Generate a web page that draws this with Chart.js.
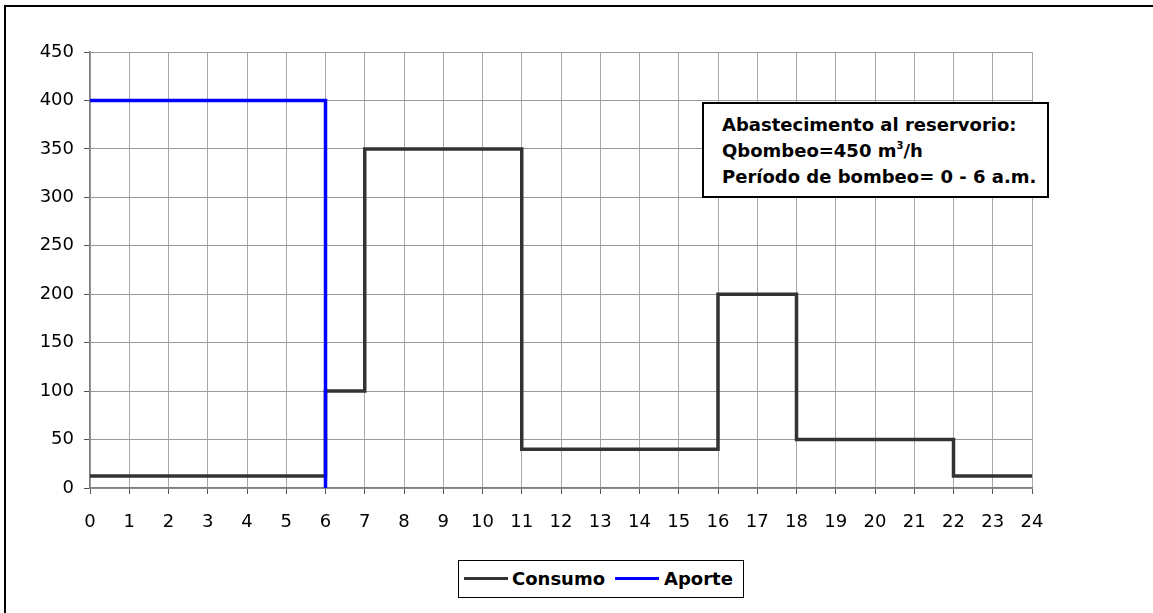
<!DOCTYPE html>
<html>
<head>
<meta charset="utf-8">
<script src="https://cdn.jsdelivr.net/npm/chart.js@4"></script>
<style>
  html, body { margin: 0; padding: 0; background: #fff; overflow: hidden; }
  #wrap { position: relative; width: 1153px; height: 613px; }
  #frame { position: absolute; left: 4px; top: 5px; width: 1200px; height: 700px;
           border-left: 2px solid #000; border-top: 2px solid #000; }
  canvas { position: absolute; left: 0; top: 0; }
  .note { position: absolute; left: 702px; top: 102px; width: 343px; height: 92px;
          border: 2px solid #000; background: #fff; box-sizing: content-box;
          font: bold 18px "DejaVu Sans", sans-serif; color: #000; }
  .note div { position: absolute; left: 18px; white-space: nowrap; }
  .note sup { font-size: 10px; vertical-align: 8px; line-height: 0; }
  .legend { position: absolute; left: 458px; top: 560px; width: 284px; height: 36px;
            border: 1px solid #000; background: #fff;
            font: bold 18px "DejaVu Sans", sans-serif; color: #000; }
  .legend span { position: absolute; top: 7px; white-space: nowrap; }
  .legend i { position: absolute; top: 16px; height: 3px; width: 44px; }
</style>
</head>
<body>
<div id="wrap">
  <div id="frame"></div>
  <canvas id="chart" width="1153" height="613"></canvas>
  <div class="note">
    <div style="top:10px">Abastecimento al reservorio:</div>
    <div style="top:36px">Qbombeo=450 m<sup>3</sup>/h</div>
    <div style="top:62px">Período de bombeo= 0 - 6 a.m.</div>
  </div>
  <div class="legend">
    <i style="left:5px;background:#333333"></i><span style="left:53px">Consumo</span>
    <i style="left:156px;background:#0000ff"></i><span style="left:205px">Aporte</span>
  </div>
</div>
<script>
// horas de cambio y caudales (m3/h)
const consumoHoras = [0, 6, 7, 11, 16, 18, 22, 24];
const consumo = [12.5, 100, 350, 40, 200, 50, 12.5, 12.5];
const aporteHoras = [0, 6];
const aporte = [400, 0];

const toPts = (xs, ys) => xs.map((x, i) => ({ x: x, y: ys[i] }));

const ctx = document.getElementById("chart").getContext("2d");
const chart = new Chart(ctx, {
    type: "line",
    data: {
        datasets: [
            {
                label: "Consumo",
                data: toPts(consumoHoras, consumo),
                borderColor: "#333333",
                borderWidth: 3.5,
                stepped: true,
                pointRadius: 0,
                order: 2,
            },
            {
                label: "Aporte",
                data: toPts(aporteHoras, aporte),
                borderColor: "#0000ff",
                borderWidth: 3.5,
                stepped: true,
                pointRadius: 0,
                order: 1,
            },
        ],
    },
    options: {
        responsive: false,
        animation: false,
        layout: { padding: { left: 0, top: 52, right: 121, bottom: 0 } },
        scales: {
            x: {
                type: "linear",
                min: 0,
                max: 24,
                afterFit: function (scale) { scale.height = 125; },
                grid: { color: "#a8a8a8", tickColor: "#555", tickLength: 6 },
                border: { color: "#808080", width: 1.5 },
                ticks: {
                    stepSize: 1,
                    color: "#000",
                    padding: 18,
                    maxRotation: 0,
                    autoSkip: false,
                    font: { family: "DejaVu Sans", size: 18 },
                },
            },
            y: {
                min: 0,
                max: 450,
                afterFit: function (scale) { scale.width = 90; },
                grid: { color: "#999999", tickColor: "#555", tickLength: 6 },
                border: { color: "#808080", width: 1.5 },
                ticks: {
                    stepSize: 50,
                    color: "#000",
                    padding: 10,
                    font: { family: "DejaVu Sans", size: 18 },
                },
            },
        },
        plugins: {
            legend: { display: false },
            tooltip: { enabled: false },
        },
    },
});
</script>
</body>
</html>
